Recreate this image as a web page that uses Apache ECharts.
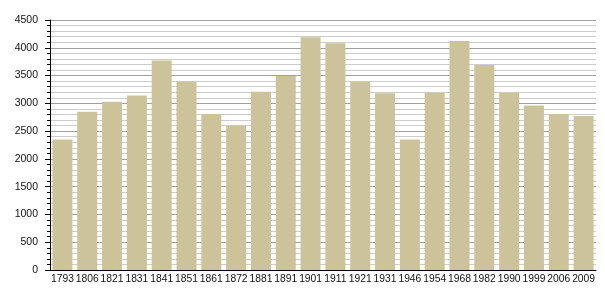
<!DOCTYPE html>
<html>
<head>
<meta charset="utf-8">
<script src="https://cdn.jsdelivr.net/npm/echarts@6/dist/echarts.min.js"></script>
<style>html,body{margin:0;padding:0;background:#fff;}#c{width:605px;height:300px;}</style>
</head>
<body>
<div id="c"></div>
<script>
const years = ['1793','1806','1821','1831','1841','1851','1861','1872','1881','1891','1901','1911','1921','1931','1946','1954','1968','1982','1990','1999','2006','2009'];
const population = [2350,2850,3030,3140,3770,3390,2810,2600,3210,3490,4190,4080,3390,3180,2350,3190,4120,3690,3190,2960,2810,2770];
const yTicks = [0,500,1000,1500,2000,2500,3000,3500,4000,4500];

const chart = echarts.init(document.getElementById('c'), null, {renderer:'canvas'});
chart.setOption({
  animation:false,
  grid:{left:50,right:9,top:20,bottom:30,containLabel:false},
  xAxis:{
    type:'category',
    data:years,
    axisLine:{lineStyle:{color:'#000',width:1}},
    axisTick:{show:false},
    axisLabel:{color:'#111',fontFamily:'Liberation Sans, Arial, sans-serif',fontSize:10.3,margin:4,interval:0}
  },
  yAxis:{
    type:'value',
    min:yTicks[0],max:yTicks[yTicks.length-1],interval:500,
    axisLine:{show:true,lineStyle:{color:'#000',width:1}},
    axisTick:{show:true,length:5,lineStyle:{color:'#000'}},
    minorTick:{show:true,splitNumber:5,length:3,lineStyle:{color:'#000'}},
    axisLabel:{color:'#111',fontFamily:'Liberation Sans, Arial, sans-serif',fontSize:10.5,margin:12,formatter:function(v){return String(v);}},
    splitLine:{show:true,lineStyle:{color:'#a0a0a0',width:1}},
    minorSplitLine:{show:true,lineStyle:{color:'#cccccc',width:1}}
  },
  series:[{
    type:'bar',
    data:population,
    barWidth:20,
    itemStyle:{color:'#cdc39b'},
    z:3
  }]
});
</script>
</body>
</html>
